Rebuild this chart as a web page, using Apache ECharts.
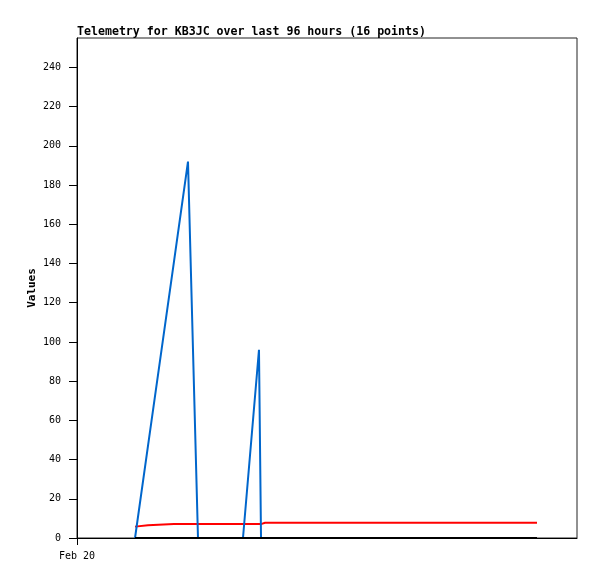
<!DOCTYPE html>
<html><head><meta charset="utf-8">
<script src="https://cdn.jsdelivr.net/npm/echarts@6/dist/echarts.min.js"></script>
<style>html,body{margin:0;padding:0;background:#fff}#c{width:597px;height:579px}</style>
</head><body><div id="c"></div>
<script>
// hours since Feb 20 00:00
const times = [11.14, 13.63, 18.62, 21.31, 23.23, 31.87, 34.94, 35.33, 36.10, 42.82, 50.50, 58.18, 65.86, 73.54, 81.22, 88.32];
const blueValues = [0, 47, 141, 192, 0, 0, 96, 0, 0, 0, 0, 0, 0, 0, 0, 0];
const redValues = [5.8, 6.5, 7.1, 7.1, 7.1, 7.1, 7.1, 7.1, 7.8, 7.8, 7.8, 7.8, 7.8, 7.8, 7.8, 7.8];
const blackValues = [0, 0, 0, 0, 0, 0, 0, 0, 0, 0, 0, 0, 0, 0, 0, 0];
const yTicks = [0, 20, 40, 60, 80, 100, 120, 140, 160, 180, 200, 220, 240];
const xTicks = [0];
const xTickLabels = ['Feb 20'];
const titleText = 'Telemetry for KB3JC over last 96 hours (16 points)';

const pairs = v => times.map((t, i) => [t, v[i]]);
const mono = 'DejaVu Sans Mono';
const chart = echarts.init(document.getElementById('c'), null, {renderer: 'canvas'});
chart.setOption({
  animation: false,
  backgroundColor: '#fff',
  title: {text: titleText, left: 77, top: 26, padding: 0,
    textStyle: {fontFamily: mono, fontSize: 11.6, fontWeight: 'bold', color: '#000'}},
  grid: {left: 77, top: 38, right: 20, bottom: 41, show: true, borderColor: '#222', borderWidth: 1, containLabel: false},
  xAxis: {type: 'value', min: 0, max: 96,
    axisLine: {show: true, lineStyle: {color: '#000', width: 1}},
    axisTick: {show: true, length: 7, customValues: xTicks, lineStyle: {color: '#000'}},
    axisLabel: {customValues: xTicks, margin: 13, formatter: v => xTickLabels[xTicks.indexOf(v)] || '',
      fontFamily: mono, fontSize: 10, color: '#000'},
    splitLine: {show: false}},
  yAxis: {type: 'value', min: 0, max: 255,
    name: 'Values', nameLocation: 'middle', nameGap: 39, nameRotate: 90, nameMoveOverlap: false,
    nameTextStyle: {fontFamily: mono, fontSize: 11, fontWeight: 'bold', color: '#000'},
    axisLine: {show: true, lineStyle: {color: '#000', width: 1}},
    axisTick: {show: true, length: 8, customValues: yTicks, lineStyle: {color: '#000'}},
    axisLabel: {customValues: yTicks, margin: 16, fontFamily: mono, fontSize: 10, color: '#000'},
    splitLine: {show: false}},
  series: [
    {type: 'line', data: pairs(redValues), showSymbol: false, lineStyle: {color: '#ff0000', width: 2}, z: 2},
    {type: 'line', data: pairs(blueValues), showSymbol: false, lineStyle: {color: '#0066cc', width: 2}, z: 3},
    {type: 'line', data: pairs(blackValues), showSymbol: false, lineStyle: {color: '#000000', width: 2}, z: 4}
  ]
});
</script></body></html>
